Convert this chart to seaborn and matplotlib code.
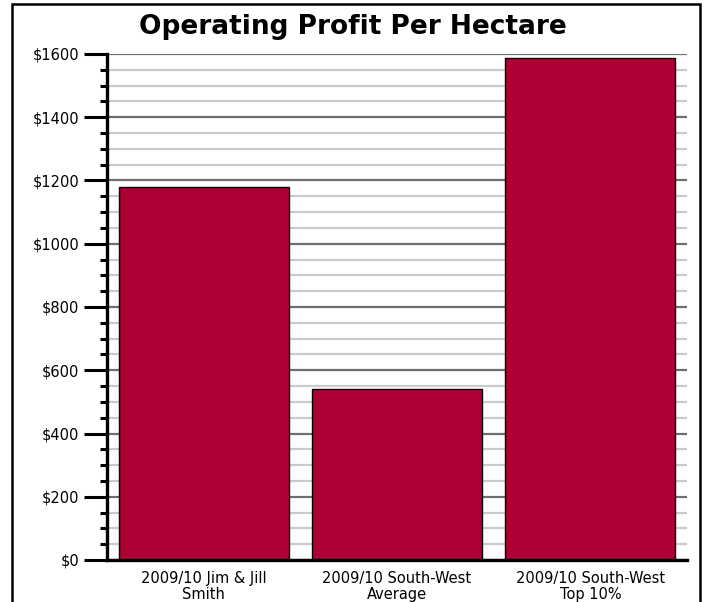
import pandas as pd
import matplotlib.pyplot as plt
import seaborn as sns
from matplotlib.ticker import MultipleLocator, FuncFormatter
from matplotlib.patches import Rectangle

# chart data
categories = ['2009/10 Jim & Jill\nSmith', '2009/10 South-West\nAverage', '2009/10 South-West\nTop 10%']
profit = [1180, 540, 1587]

df = pd.DataFrame({'Group': categories, 'Profit': profit})

sns.set_style('white')
plt.rcParams['font.family'] = ['DejaVu Sans']
plt.rcParams['font.sans-serif'] = ['DejaVu Sans']
plt.rcParams['text.color'] = 'black'
plt.rcParams['xtick.color'] = 'black'
plt.rcParams['ytick.color'] = 'black'

fig = plt.figure(figsize=(7.05, 6.02), dpi=100)
ax = fig.add_axes([107 / 705, 1 - 560 / 602, 580 / 705, (560 - 54) / 602])

# grid first so the bars sit on top
ax.set_axisbelow(True)
ax.yaxis.set_major_locator(MultipleLocator(200))
ax.yaxis.set_minor_locator(MultipleLocator(50))
ax.grid(which='major', axis='y', color='#6e6e6e', linewidth=1.6)
ax.grid(which='minor', axis='y', color='#cacaca', linewidth=1.6)

sns.barplot(x='Group', y='Profit', data=df, color='#AD0034', saturation=1,
            width=0.88, edgecolor='black', linewidth=1, ax=ax)

ax.set_ylim(0, 1600)
ax.set_xlim(-0.5, 2.5)
ax.yaxis.set_major_formatter(FuncFormatter(lambda v, p: f'${v:.0f}'))
ax.set_xlabel('')
ax.set_ylabel('')

for side in ['top', 'right']:
    ax.spines[side].set_visible(False)
for side in ['left', 'bottom']:
    ax.spines[side].set_linewidth(2.4)
    ax.spines[side].set_color('black')

ax.tick_params(axis='y', which='major', direction='out', length=16.5, width=2.2,
               color='black', pad=3.5, labelsize=10.5, labelcolor='black', left=True)
ax.tick_params(axis='y', which='minor', direction='out', length=5, width=2.2,
               color='black', left=True)
ax.tick_params(axis='x', length=0, pad=8, labelsize=10.5, labelcolor='black')
for lbl in ax.get_xticklabels() + ax.get_yticklabels():
    lbl.set_fontfamily('DejaVu Sans')
for lbl in ax.get_xticklabels():
    lbl.set_linespacing(1.05)

fig.text(0.5, 1 - 27 / 602, 'Operating Profit Per Hectare', ha='center', va='center',
         fontsize=19, fontweight='bold', color='black', fontfamily='DejaVu Sans')

# outer frame around the chart (bottom edge runs off the image)
fig.patches.append(Rectangle((12 / 705, -0.05), (700 - 12) / 705, 1.05 - 4 / 602,
                             transform=fig.transFigure, fill=False,
                             edgecolor='black', linewidth=1.8))

fig.savefig('out.png', dpi=100)
